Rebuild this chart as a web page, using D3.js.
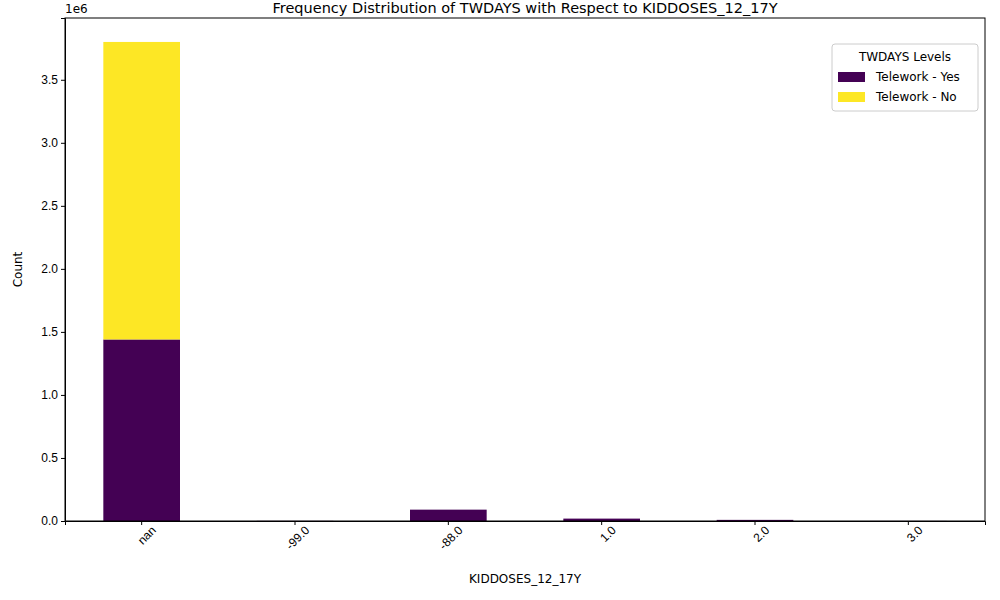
<!DOCTYPE html>
<html><head><meta charset="utf-8">
<script src="https://cdn.jsdelivr.net/npm/d3@7"></script>
<style>body{margin:0;background:#fff;font-family:"DejaVu Sans",sans-serif;}</style>
</head><body>
<svg id="chart" width="1000" height="600"></svg>
<script>
var categories=["nan","-99.0","-88.0","1.0","2.0","3.0"];
var teleworkYes=[1440000,1000,90000,19000,9000,500];
var teleworkNo=[2360000,0,0,0,0,0];
var yTicks=[0,0.5e6,1e6,1.5e6,2e6,2.5e6,3e6,3.5e6];

var margin={top:18,left:65,bottom:79,right:15};
var width=1000-margin.left-margin.right;
var height=600-margin.top-margin.bottom;

var svg=d3.select("#chart").append("g")
    .attr("transform","translate("+margin.left+","+margin.top+")");

var xScale=d3.scaleBand().domain(categories).range([0,width]).paddingInner(0.5).paddingOuter(0.25);
var yScale=d3.scaleLinear().domain([0,3.99e6]).range([height,0]);

var data=categories.map((c,i)=>({cat:c,yes:teleworkYes[i],no:teleworkNo[i]}));

svg.selectAll(".yes").data(data).enter().append("rect")
    .attr("x",d=>xScale(d.cat)).attr("width",xScale.bandwidth())
    .attr("y",d=>yScale(d.yes)).attr("height",d=>height-yScale(d.yes))
    .attr("fill","#440154");
svg.selectAll(".no").data(data).enter().append("rect")
    .attr("x",d=>xScale(d.cat)).attr("width",xScale.bandwidth())
    .attr("y",d=>yScale(d.yes+d.no)).attr("height",d=>yScale(d.yes)-yScale(d.yes+d.no))
    .attr("fill","#fde725");

var xa=svg.append("g").attr("transform","translate(0,"+height+")")
    .call(d3.axisBottom(xScale).tickSizeOuter(0).tickSize(4));
xa.selectAll("text").attr("font-size","12px").attr("fill","#000")
    .attr("transform","rotate(-45)").attr("text-anchor","end").attr("dx","0.3em").attr("dy","0.9em");
var ya=svg.append("g")
    .call(d3.axisLeft(yScale).tickValues(yTicks).tickFormat(d=>(d/1e6).toFixed(1)).tickSizeOuter(0).tickSize(4));
ya.selectAll("text").attr("font-size","12px").attr("fill","#000");
svg.append("rect").attr("width",width).attr("height",height).attr("fill","none").attr("stroke","#000").attr("stroke-width",1);

svg.append("text").attr("x",0).attr("y",-5).attr("font-size","12px").text("1e6");
svg.append("text").attr("x",width/2).attr("y",-5+0).attr("dy","-0.0em").attr("text-anchor","middle")
    .attr("font-size","14.5px").attr("transform","translate(0,0)").text("Frequency Distribution of TWDAYS with Respect to KIDDOSES_12_17Y");
svg.append("text").attr("x",width/2).attr("y",height+62).attr("text-anchor","middle").attr("font-size","12px").text("KIDDOSES_12_17Y");
svg.append("text").attr("transform","translate(-43,"+height/2+") rotate(-90)").attr("text-anchor","middle").attr("font-size","12px").text("Count");

var lg=svg.append("g").attr("transform","translate("+(width-153)+",26)");
lg.append("rect").attr("width",146).attr("height",67).attr("rx",3).attr("fill","#fff").attr("stroke","#ccc");
lg.append("text").attr("x",73).attr("y",17).attr("text-anchor","middle").attr("font-size","12px").text("TWDAYS Levels");
[["Telework - Yes","#440154"],["Telework - No","#fde725"]].forEach((e,i)=>{
  lg.append("rect").attr("x",6).attr("y",28+i*20).attr("width",27).attr("height",10).attr("fill",e[1]);
  lg.append("text").attr("x",44).attr("y",37+i*20).attr("font-size","12px").text(e[0]);
});
</script>
</body></html>
